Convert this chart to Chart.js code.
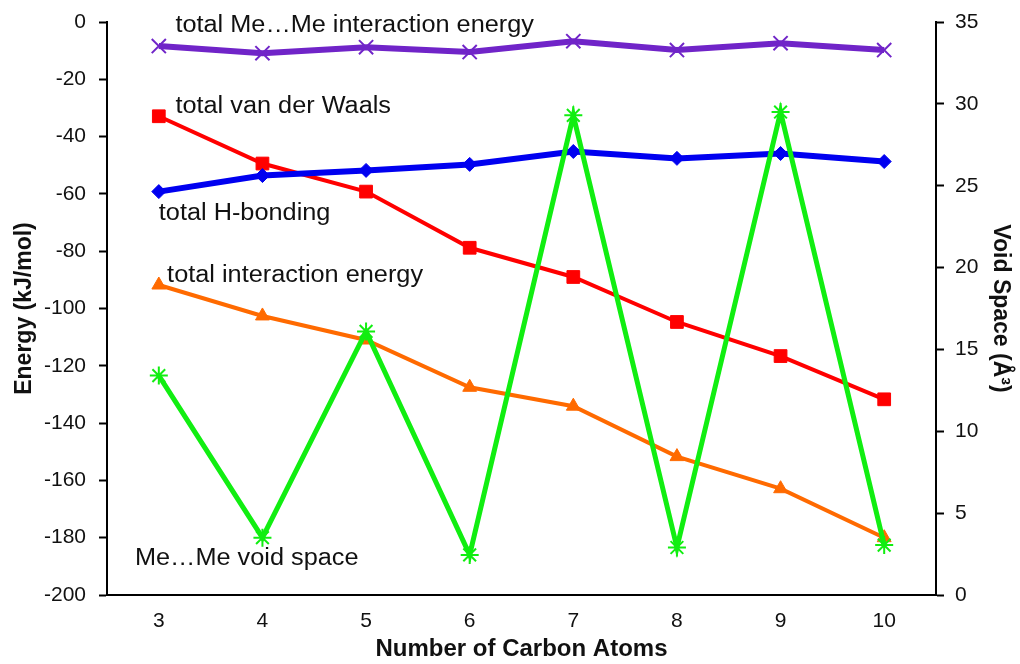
<!DOCTYPE html>
<html>
<head>
<meta charset="utf-8">
<script src="https://cdn.jsdelivr.net/npm/chart.js@4.4.1/dist/chart.umd.min.js"></script>
<style>
  body { margin: 0; background: #fff; }
  #wrap { width: 1020px; height: 664px; }
</style>
</head>
<body>
<div id="wrap"><canvas id="chart" width="1020" height="664"></canvas></div>
<script>
// carbon atom counts
const carbons = ['3', '4', '5', '6', '7', '8', '9', '10'];
// energies (kJ/mol), left axis
const meMeEnergy = [-8.4, -10.9, -8.8, -10.5, -6.7, -9.8, -7.4, -9.8];
const vdwEnergy = [-32.9, -49.4, -59.2, -78.8, -89.0, -104.7, -116.6, -131.7];
const hBondEnergy = [-59.2, -53.6, -51.8, -49.7, -45.2, -47.6, -45.9, -48.7];
const totalEnergy = [-91.8, -102.6, -111.0, -127.5, -134.1, -151.7, -162.9, -180.0];
// void space (A^3), right axis
const voidSpace = [13.4, 3.5, 16.1, 2.45, 29.3, 2.9, 29.5, 3.05];

// in-plot labels: text, category position, energy value
const labelTexts = ['total Me\u2026Me interaction energy', 'total van der Waals', 'total H-bonding', 'total interaction energy', 'Me\u2026Me void space'];
const labelX = [0.16, 0.16, 0.0, 0.08, -0.23];
const labelY = [-1.4, -29.4, -66.9, -88.6, -187.4];

const inlineLabels = {
  id: 'inlineLabels',
  afterDatasetsDraw(chart) {
    const ctx = chart.ctx;
    const x = chart.scales.x, y = chart.scales.y;
    ctx.save();
    ctx.font = '23px "Liberation Sans", Arial, sans-serif';
    ctx.fillStyle = '#111';
    ctx.textAlign = 'left';
    ctx.textBaseline = 'middle';
    labelTexts.forEach((t, i) => {
      const px = x.getPixelForValue(labelX[i]);
      const py = y.getPixelForValue(labelY[i]);
      ctx.save();
      ctx.translate(px, py);
      ctx.scale(1.1, 1); // text in the original is a little wider
      ctx.fillText(t, 0, 0);
      ctx.restore();
    });
    ctx.restore();
  }
};

const font = { family: '"Liberation Sans", Arial, sans-serif', size: 21 };
const titleFont = { family: '"Liberation Sans", Arial, sans-serif', size: 23, weight: 'bold' };

// fixed axis sizes so the plot area lands where the original has it
function fitSide(width) {
  return function (scale) {
    scale.width = width;
    scale.paddingTop = 0;
    scale.paddingBottom = 0;
  };
}

new Chart(document.getElementById('chart').getContext('2d'), {
  type: 'line',
  data: {
    labels: carbons,
    datasets: [
      {
        label: 'Me...Me void space',
        data: voidSpace,
        yAxisID: 'y1',
        borderColor: '#11ee11',
        backgroundColor: '#11ee11',
        borderWidth: 5,
        pointStyle: 'star',
        pointRadius: 9,
        pointBorderWidth: 2,
        order: 0
      },
      {
        label: 'total Me...Me interaction energy',
        data: meMeEnergy,
        yAxisID: 'y',
        borderColor: '#7024c8',
        backgroundColor: '#7024c8',
        borderWidth: 6,
        pointStyle: 'crossRot',
        pointRadius: 10,
        pointBorderWidth: 2,
        order: 1
      },
      {
        label: 'total H-bonding',
        data: hBondEnergy,
        yAxisID: 'y',
        borderColor: '#0000f0',
        backgroundColor: '#0000f0',
        borderWidth: 6,
        pointStyle: 'rectRot',
        pointRadius: 7,
        pointBorderWidth: 1,
        order: 2
      },
      {
        label: 'total van der Waals',
        data: vdwEnergy,
        yAxisID: 'y',
        borderColor: '#ff0000',
        backgroundColor: '#ff0000',
        borderWidth: 4,
        pointStyle: 'rect',
        pointRadius: 9,
        pointBorderWidth: 1,
        order: 3
      },
      {
        label: 'total interaction energy',
        data: totalEnergy,
        yAxisID: 'y',
        borderColor: '#ff6a00',
        backgroundColor: '#ff6a00',
        borderWidth: 4,
        pointStyle: 'triangle',
        pointRadius: 8,
        pointBorderWidth: 1,
        order: 4
      }
    ]
  },
  options: {
    responsive: false,
    animation: false,
    layout: { padding: { top: 22, right: 2, left: 6, bottom: 0 } },
    plugins: {
      legend: { display: false },
      tooltip: { enabled: false }
    },
    scales: {
      x: {
        offset: true,
        grid: { display: false, drawTicks: false },
        border: { display: true, color: '#000', width: 2 },
        ticks: { color: '#111', font: font, padding: 14 },
        title: { display: true, text: 'Number of Carbon Atoms', color: '#111', font: { ...titleFont, size: 24 }, padding: { top: 0, bottom: 0 } },
        afterFit(scale) { scale.height = 69; }
      },
      y: {
        position: 'left',
        min: -200,
        max: 0,
        ticks: { stepSize: 20, color: '#111', font: font, padding: 13 },
        grid: { drawOnChartArea: false, drawTicks: true, tickLength: 8, tickColor: '#000', tickWidth: 2 },
        border: { display: true, color: '#000', width: 2 },
        title: { display: true, text: 'Energy (kJ/mol)', color: '#111', font: titleFont, padding: { top: 5, bottom: 0 } },
        afterFit: fitSide(101)
      },
      y1: {
        position: 'right',
        min: 0,
        max: 35,
        ticks: { stepSize: 5, color: '#111', font: font, padding: 11 },
        grid: { drawOnChartArea: false, drawTicks: true, tickLength: 8, tickColor: '#000', tickWidth: 2 },
        border: { display: true, color: '#000', width: 2 },
        title: { display: true, text: 'Void Space (\u00c5\u00b3)', color: '#111', font: titleFont, padding: { top: 4, bottom: 0 } },
        afterFit: fitSide(82)
      }
    }
  },
  plugins: [inlineLabels]
});
</script>
</body>
</html>
